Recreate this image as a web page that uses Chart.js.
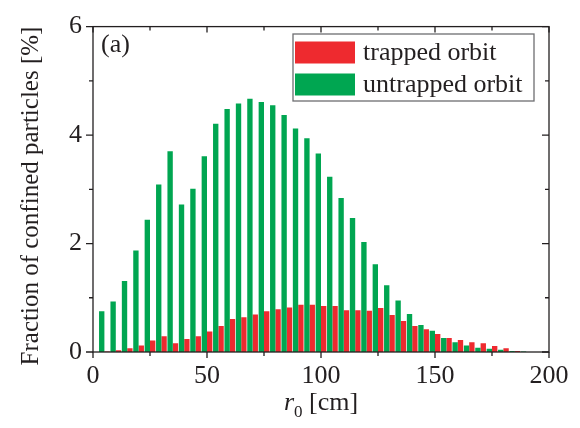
<!DOCTYPE html>
<html>
<head>
<meta charset="utf-8">
<script src="https://cdn.jsdelivr.net/npm/chart.js@4.4.0/dist/chart.umd.min.js"></script>
<style>
    html, body { margin: 0; padding: 0; background: #fff; }
    #wrap { width: 580px; height: 428px; }
</style>
</head>
<body>
<div id="wrap"><canvas id="fractionChart" width="580" height="428"></canvas></div>
<script>
// bin centres r0 [cm]
const radius = [5, 10, 15, 20, 25, 30, 35, 40, 45, 50, 55, 60, 65, 70, 75, 80, 85, 90, 95,
    100, 105, 110, 115, 120, 125, 130, 135, 140, 145, 150, 155, 160, 165, 170, 175, 180, 185, 190];

const trapped = [0.01, 0.03, 0.07, 0.12, 0.21, 0.29, 0.16, 0.24, 0.29, 0.38, 0.48, 0.61, 0.64,
    0.69, 0.75, 0.79, 0.82, 0.87, 0.87, 0.85, 0.85, 0.77, 0.77, 0.76, 0.81, 0.68, 0.57, 0.48,
    0.42, 0.33, 0.26, 0.22, 0.18, 0.16, 0.11, 0.07, 0.02, 0];

const untrapped = [0.75, 0.93, 1.31, 1.87, 2.44, 3.09, 3.70, 2.72, 3.01, 3.61, 4.21, 4.48, 4.58,
    4.67, 4.61, 4.55, 4.37, 4.12, 3.94, 3.66, 3.23, 2.84, 2.47, 2.03, 1.62, 1.23, 0.95, 0.70,
    0.50, 0.39, 0.26, 0.18, 0.12, 0.08, 0.06, 0.04, 0.02, 0.01];

const xTicks = [0, 50, 100, 150, 200];
const yTicks = [0, 2, 4, 6];
const seriesLabels = ['trapped orbit', 'untrapped orbit'];
const yTitle = 'Fraction of confined particles [%]';
const panelLabel = '(a)';

const INK = '#231f20';
const RED = '#ee2a2f';
const GREEN = '#00a651';
const SERIF = '"Liberation Serif", "Times New Roman", serif';

// frame, ticks, titles and legend box
const framePlugin = {
    id: 'frame',
    afterDatasetsDraw(chart) {
        const ctx = chart.ctx;
        const area = chart.chartArea;
        const xs = chart.scales.x;
        const ys = chart.scales.y;
        ctx.save();
        ctx.strokeStyle = INK;
        ctx.lineWidth = 1.3;
        ctx.strokeRect(area.left, area.top, area.right - area.left, area.bottom - area.top);

        // x ticks: out on bottom, in on top
        for (let v = 0; v <= 200; v += 25) {
            const px = xs.getPixelForValue(v);
            const len = v % 50 === 0 ? 6 : 4;
            ctx.beginPath();
            ctx.moveTo(px, area.bottom);
            ctx.lineTo(px, area.bottom + len);
            ctx.moveTo(px, area.top);
            ctx.lineTo(px, area.top + len);
            ctx.stroke();
        }
        // y ticks: out on left, in on right
        for (let v = 0; v <= 6; v += 1) {
            const py = ys.getPixelForValue(v);
            const len = v % 2 === 0 ? 7 : 4;
            ctx.beginPath();
            ctx.moveTo(area.left, py);
            ctx.lineTo(area.left - len, py);
            ctx.moveTo(area.right, py);
            ctx.lineTo(area.right - len, py);
            ctx.stroke();
        }

        ctx.fillStyle = INK;
        // panel label
        ctx.font = '26px ' + SERIF;
        ctx.textAlign = 'left';
        ctx.textBaseline = 'alphabetic';
        ctx.fillText(panelLabel, area.left + 8, 52);

        // x title: italic r with subscript 0
        const parts = [
            { text: 'r', font: 'italic 26px ' + SERIF, dy: 0 },
            { text: '0', font: '17px ' + SERIF, dy: 7 },
            { text: ' [cm]', font: '26px ' + SERIF, dy: 0 }
        ];
        let total = 0;
        parts.forEach(p => { ctx.font = p.font; total += ctx.measureText(p.text).width; });
        let tx = (area.left + area.right) / 2 - total / 2;
        parts.forEach(p => {
            ctx.font = p.font;
            ctx.fillText(p.text, tx, 410 + p.dy);
            tx += ctx.measureText(p.text).width;
        });

        // y title
        ctx.save();
        ctx.translate(38, 196);
        ctx.rotate(-Math.PI / 2);
        ctx.textAlign = 'center';
        ctx.font = '25px ' + SERIF;
        ctx.fillText(yTitle, 0, 0);
        ctx.restore();

        // legend
        ctx.fillStyle = '#fff';
        ctx.fillRect(293, 34, 241, 67);
        ctx.strokeStyle = '#6d6e71';
        ctx.lineWidth = 1.3;
        ctx.strokeRect(293, 34, 241, 67);
        const entries = [
            { label: seriesLabels[0], color: RED, top: 41.5, base: 60 },
            { label: seriesLabels[1], color: GREEN, top: 73.5, base: 91.5 }
        ];
        ctx.font = '26px ' + SERIF;
        entries.forEach(e => {
            ctx.fillStyle = e.color;
            ctx.fillRect(295, e.top, 60, 22);
            ctx.fillStyle = INK;
            ctx.fillText(e.label, 363, e.base);
        });
        ctx.restore();
    }
};

const ctx = document.getElementById('fractionChart');
new Chart(ctx, {
    type: 'bar',
    data: {
        datasets: [
            {
                label: seriesLabels[1],
                data: radius.map((r, i) => ({ x: r, y: untrapped[i] })),
                backgroundColor: GREEN
            },
            {
                label: seriesLabels[0],
                data: radius.map((r, i) => ({ x: r, y: trapped[i] })),
                backgroundColor: RED
            }
        ]
    },
    options: {
        responsive: false,
        animation: false,
        devicePixelRatio: 1,
        categoryPercentage: 0.94,
        barPercentage: 1.0,
        layout: { padding: { left: 0, right: 31, top: 25, bottom: 0 } },
        plugins: {
            legend: { display: false },
            tooltip: { enabled: false }
        },
        scales: {
            x: {
                type: 'linear',
                min: 0,
                max: 200,
                offset: false,
                grid: { display: false, drawTicks: false },
                border: { display: false },
                ticks: {
                    padding: 9,
                    color: INK,
                    font: { family: SERIF, size: 26 }
                },
                afterBuildTicks: scale => { scale.ticks = xTicks.map(v => ({ value: v })); },
                afterFit: scale => { scale.height = 76; }
            },
            y: {
                min: 0,
                max: 6,
                grid: { display: false, drawTicks: false },
                border: { display: false },
                ticks: {
                    padding: 11,
                    color: INK,
                    font: { family: SERIF, size: 26 }
                },
                afterBuildTicks: scale => { scale.ticks = yTicks.map(v => ({ value: v })); },
                afterFit: scale => { scale.width = 93; }
            }
        }
    },
    plugins: [framePlugin]
});
</script>
</body>
</html>
